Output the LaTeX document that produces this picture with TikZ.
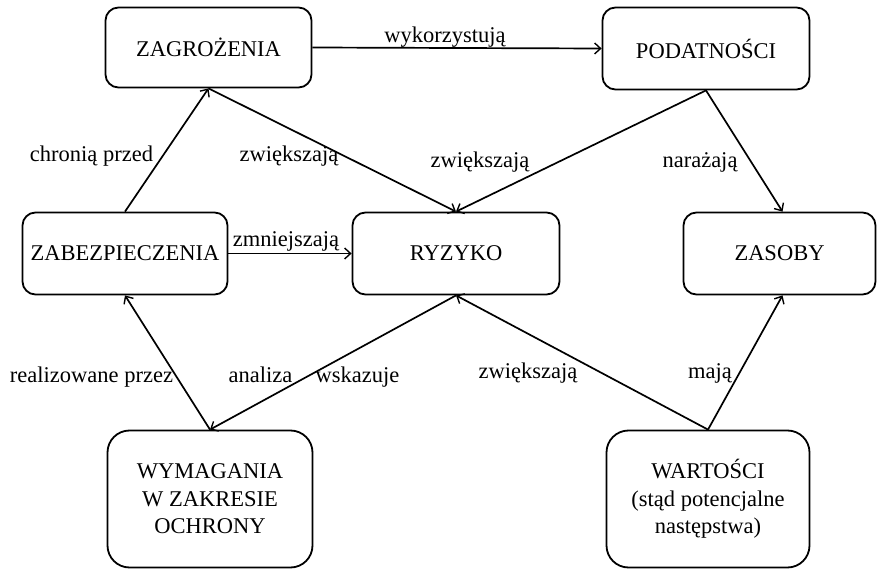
\documentclass[tikz,border=0pt]{standalone}
\usepackage{fontspec}
\setmainfont{Liberation Serif}
\usetikzlibrary{arrows.meta}
\begin{document}
\begin{tikzpicture}[x=1pt,y=-1pt,
  box/.style={draw, line width=1.8pt, rounded corners=13pt, align=center, inner sep=0pt,
    font=\fontsize{22.5}{27.5}\selectfont},
  tallbox/.style={box, rounded corners=22pt},
  conn/.style={line width=1.7pt, -{Straight Barb[length=6pt,width=11pt,line width=1.4pt]}},
  lbl/.style={inner sep=0pt, anchor=base, font=\fontsize{22.5}{27}\selectfont}]
\useasboundingbox (0,0) rectangle (878,569);
% boxes
\node[box, minimum width=206pt, minimum height=80pt] (zag) at (208.5,47.5) {ZAGROŻENIA};
\node[box, minimum width=207pt, minimum height=82pt] (pod) at (706,48.5) {PODATNOŚCI};
\node[box, minimum width=205pt, minimum height=82pt] (zab) at (125,253.5) {ZABEZPIECZENIA};
\node[box, minimum width=207pt, minimum height=82pt] (ryz) at (456,253.5) {RYZYKO};
\node[box, minimum width=192pt, minimum height=82pt] (zas) at (779.5,253.5) {ZASOBY};
\node[tallbox, minimum width=205pt, minimum height=137pt] (wym) at (210,499) {WYMAGANIA\\W ZAKRESIE\\OCHRONY};
\node[tallbox, minimum width=203pt, minimum height=137pt] (war) at (708,499) {WARTOŚCI\\(stąd potencjalne\\następstwa)};
% connectors
\draw[conn] (zag.east) -- (pod.west);
\draw[conn] (zab.north) -- (zag.south);
\draw[conn] (zag.south) -- (ryz.north);
\draw[conn] (pod.south) -- (ryz.north);
\draw[conn] (pod.south) -- ([xshift=3pt]zas.north);
\draw[conn] (zab.east) -- (ryz.west);
\draw[conn] (wym.north) -- (zab.south);
\draw[conn] (ryz.south) -- (wym.north);
\draw[conn] (war.north) -- (ryz.south);
\draw[conn] (war.north) -- ([xshift=3pt]zas.south);
% labels
\node[lbl] (l1) at (445,43) {wykorzystują};
\node[lbl] (l2) at (91.5,162) {chronią przed};
\node[lbl] (l3) at (289,162) {zwiększają};
\node[lbl] (l4) at (480,168) {zwiększają};
\node[lbl] (l5) at (700,168) {narażają};
\node[lbl] (l6) at (286,247) {zmniejszają};
\node[lbl] (l7) at (91.5,382) {realizowane przez};
\node[lbl] (l8) at (260.5,382) {analiza};
\node[lbl] (l9) at (357.5,382) {wskazuje};
\node[lbl] (l10) at (528,378) {zwiększają};
\node[lbl] (l11) at (710,378) {mają};
\end{tikzpicture}
\end{document}
